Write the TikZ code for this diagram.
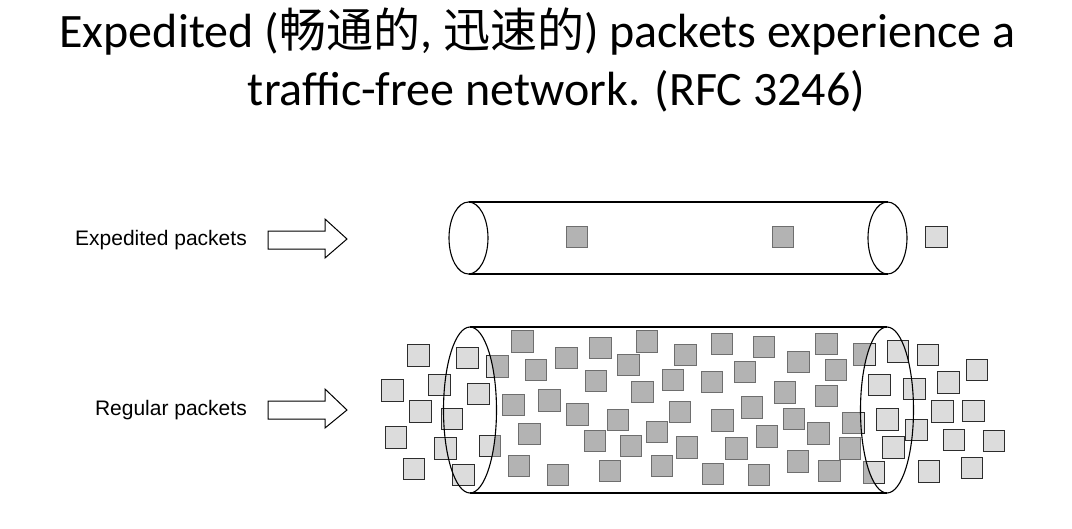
\documentclass[tikz,border=0pt]{standalone}
\usepackage{fontspec}
\setmainfont{Carlito}
\newfontfamily\cjk{Noto Sans CJK SC}
\newfontfamily\labfont{Liberation Sans}
\definecolor{lightfill}{RGB}{220,220,220}
\definecolor{lightdraw}{RGB}{45,45,45}
\definecolor{darkfill}{RGB}{179,179,179}
\definecolor{darkdraw}{RGB}{110,110,110}
\newcommand{\cjktext}[1]{{\cjk\fontsize{47}{47}\selectfont #1}}
\begin{document}
\begin{tikzpicture}[x=1pt,y=-1pt,
  pkt/.style={minimum size=21.5pt,inner sep=0pt,line width=1.1pt},
  lightpk/.style={pkt,fill=lightfill,draw=lightdraw},
  darkpk/.style={pkt,fill=darkfill,draw=darkdraw},
  tube/.style={draw=black,line width=1.1pt},
  blockarrow/.style={draw=black,line width=1pt,fill=white,line join=miter},
  titlefont/.style={font=\fontsize{48}{48}\selectfont},
  labelfont/.style={font=\labfont\fontsize{21}{21}\selectfont}]
\useasboundingbox (0,0) rectangle (1072,528);
% title
\node[titlefont,anchor=base,inner sep=0pt] (t1) at (537.5,47) {Expedited (\cjktext{畅通的}, \cjktext{迅速的}) packets experience a};
\node[titlefont,anchor=base,inner sep=0pt] (t2) at (556.5,105) {traffic-free network. (RFC 3246)};
% labels
\node[labelfont,anchor=base east,inner sep=0pt] (l1) at (247,245) {Expedited packets};
\node[labelfont,anchor=base east,inner sep=0pt] (l2) at (247,415) {Regular packets};
% block arrows
\draw[blockarrow] (268,231) -- (325,231) -- (325,219) -- (347,239) -- (325,258) -- (325,249) -- (268,249) -- cycle;
\draw[blockarrow] (268,401) -- (325,401) -- (325,389) -- (347,410) -- (325,428) -- (325,419) -- (268,419) -- cycle;
% top tube
\node[darkpk] (e1) at (577,237) {};
\node[darkpk] (e2) at (783,237) {};
\node[lightpk] (e3) at (936.5,237) {};
\draw[tube] (468.5,202) -- (887.5,202);
\draw[tube] (468.5,274) -- (887.5,274);
\draw[tube] (468.5,238) ellipse[x radius=19.5,y radius=36];
\draw[tube] (887.5,238) ellipse[x radius=19.5,y radius=36];
% bottom tube packets
\def\sqlist{418.5/355.5, 467.5/358, 497.5/366.5, 522.5/341.5, 566.5/358, 536/370, 596/381, 392.5/390.5, 439.5/385, 478.5/394, 513.5/405, 549.5/400.5, 577.5/414.5, 420.5/411.5, 452/419, 396/437.5, 445.5/448.5, 490/446, 529.5/434, 595/441, 414/469, 463.5/475, 519/466, 558/475,
600.5/348, 647/341.5, 628.5/365, 685.5/355, 722/344, 764/347, 642.5/392, 673/380, 712/382, 745/372, 785/392.5, 618/420, 680/412, 752/407.5, 657/432, 722.5/420.5, 631/446, 687/447.5, 736.5/448.5, 767/436.5, 610/471, 662/466, 713/474, 759/475,
826.5/344, 798.5/362, 864.5/354.5, 836/370, 898/351.5, 928/355, 977/370, 826.5/396, 879.5/385, 914.5/389, 948.5/382.5, 794/419, 853.5/423, 887.5/419.5, 942.5/411.5, 973.5/411, 818.5/433.5, 916.5/430, 850/448.5, 893.5/447.5, 954/440, 994/441, 798/461.5, 829.5/471, 874/472.5, 929/471.5, 972/468}
\foreach \px/\py [count=\i] in \sqlist {\node[lightpk] (a\i) at (\px,\py) {};}
\begin{scope}
\clip (470,327) arc[start angle=-90,end angle=90,x radius=26.5,y radius=83] -- (887,493) arc[start angle=90,end angle=270,x radius=26.5,y radius=83] -- cycle;
\foreach \px/\py [count=\i] in \sqlist {\node[darkpk] (b\i) at (\px,\py) {};}
\end{scope}
% bottom tube outline
\draw[tube] (470,327) -- (887,327);
\draw[tube] (470,493) -- (887,493);
\draw[tube] (470,410) ellipse[x radius=26.5,y radius=83];
\draw[tube] (887,410) ellipse[x radius=26.5,y radius=83];
\end{tikzpicture}
\end{document}
